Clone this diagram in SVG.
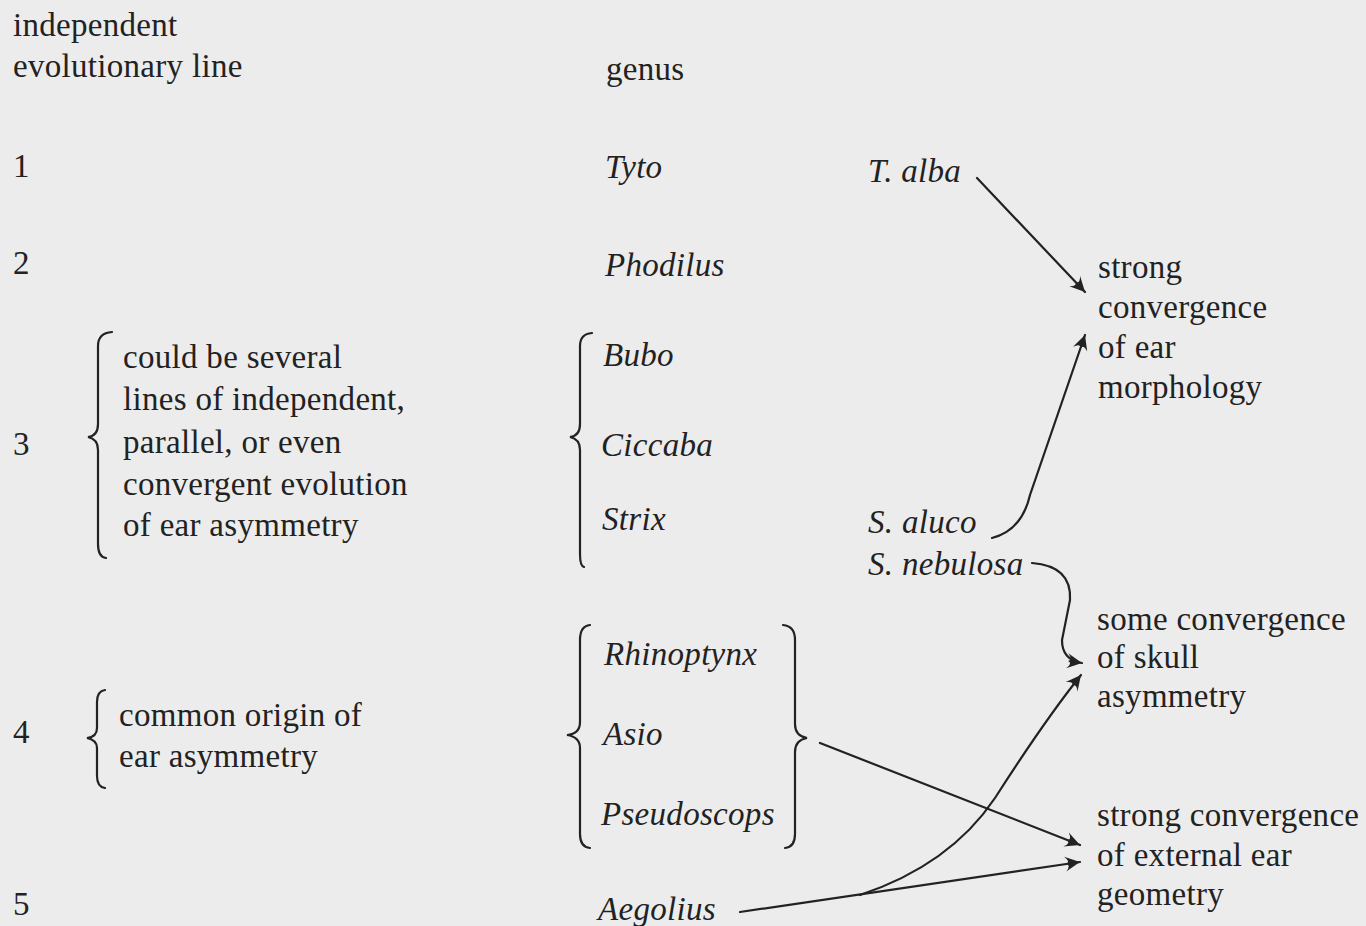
<svg xmlns="http://www.w3.org/2000/svg" width="1366" height="926" viewBox="0 0 1366 926">
<style>
text{font-family:"Liberation Serif","Times New Roman",serif;font-size:33px;letter-spacing:0.3px;fill:#222}
.i{font-style:italic}
.b{fill:none;stroke:#222;stroke-width:2.2;stroke-linecap:round}
.c{fill:none;stroke:#222;stroke-width:2.2;stroke-linecap:round}
</style>
<defs>
<marker id="ah" viewBox="-16 -9 18 18" refX="0" refY="0" markerWidth="18" markerHeight="18" markerUnits="userSpaceOnUse" orient="auto">
<path d="M0,0 L-15,-7.5 Q-9,-1.5 -14,0 Q-9,1.5 -15,7.5 Z" fill="#222"/>
</marker>
</defs>
<rect width="1366" height="926" fill="#ececec"/>
<g id="headers">
<text x="13" y="36">independent</text>
<text x="13" y="77">evolutionary line</text>
<text x="606" y="80">genus</text>
</g>
<g id="line1"><text x="13" y="177">1</text><text class="i" x="605" y="178">Tyto</text><text class="i" x="868" y="182">T. alba</text></g>
<g id="line2"><text x="13" y="274">2</text><text class="i" x="605" y="276">Phodilus</text></g>
<g id="line3">
<text x="13" y="455">3</text>
<path class="b" d="M112,332 Q98,333 98,346 L98,424 Q98,436 88,437 Q98,439 98,450 L98,544 Q98,557 106,558"/>
<text x="123" y="368">could be several</text>
<text x="123" y="410">lines of independent,</text>
<text x="123" y="453">parallel, or even</text>
<text x="123" y="495">convergent evolution</text>
<text x="123" y="536">of ear asymmetry</text>
<path class="b" d="M592,333 Q580,334 580,346 L580,424 Q580,436 570,437 Q580,439 580,450 L580,554 Q580,566 584,567"/>
<text class="i" x="603" y="366">Bubo</text>
<text class="i" x="601" y="456">Ciccaba</text>
<text class="i" x="602" y="530">Strix</text>
<text class="i" x="868" y="533">S. aluco</text>
<text class="i" x="868" y="575">S. nebulosa</text>
</g>
<g id="line4">
<text x="13" y="743">4</text>
<path class="b" d="M105,690 Q97,691 97,702 L97,728 Q97,737 87,738 Q97,740 97,748 L97,776 Q97,787 105,788"/>
<text x="119" y="726">common origin of</text>
<text x="119" y="767">ear asymmetry</text>
<path class="b" d="M590,625 Q580,626 580,640 L580,722 Q580,734 567,735 Q580,737 580,748 L580,834 Q580,847 590,848"/>
<path class="b" d="M783,625 Q795,626 795,640 L795,724 Q795,736 807,738 Q795,740 795,752 L795,834 Q795,847 785,848"/>
<text class="i" x="604" y="665">Rhinoptynx</text>
<text class="i" x="603" y="745">Asio</text>
<text class="i" x="601" y="825">Pseudoscops</text>
</g>
<g id="line5"><text x="13" y="915">5</text><text class="i" x="598" y="920">Aegolius</text></g>
<g id="ear-morphology">
<text x="1098" y="278">strong</text>
<text x="1098" y="318">convergence</text>
<text x="1098" y="358">of ear</text>
<text x="1098" y="398">morphology</text>
</g>
<g id="skull-asymmetry">
<text x="1097" y="630">some convergence</text>
<text x="1097" y="668">of skull</text>
<text x="1097" y="707">asymmetry</text>
</g>
<g id="external-ear">
<text x="1097" y="826">strong convergence</text>
<text x="1097" y="866">of external ear</text>
<text x="1097" y="905">geometry</text>
</g>
<g id="connectors">
<path class="c" d="M977,178 L1085,292" marker-end="url(#ah)"/>
<path class="c" d="M992,538 Q1022,530 1030,495 L1085,335" marker-end="url(#ah)"/>
<path class="c" d="M1032,563 Q1072,566 1070,600 Q1066,620 1062,640 Q1062,660 1082,663" marker-end="url(#ah)"/>
<path class="c" d="M860,895 Q950,865 995,798 Q1045,720 1081,675" marker-end="url(#ah)"/>
<path class="c" d="M820,743 L1080,845" marker-end="url(#ah)"/>
<path class="c" d="M740,912 L1080,862" marker-end="url(#ah)"/>
</g>
</svg>
